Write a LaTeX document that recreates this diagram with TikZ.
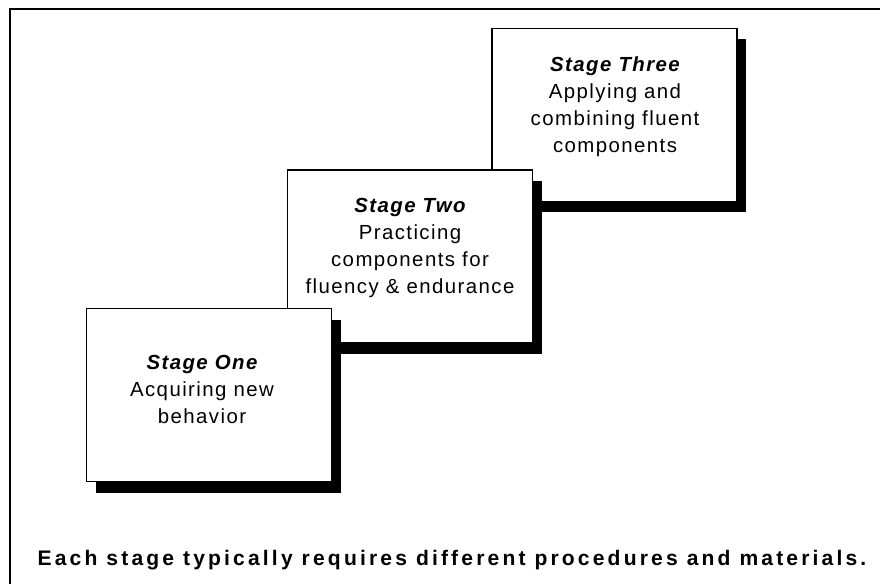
\documentclass[tikz,border=0pt]{standalone}
\usepackage{fontspec}
\setmainfont{Liberation Sans}
\newfontfamily\boxfont{Liberation Sans}[LetterSpace=7]
\newfontfamily\capfont{Liberation Sans}[LetterSpace=15]
\begin{document}
\begin{tikzpicture}[x=0.75pt,y=-0.75pt,
  shadowbox/.style={fill=black, draw=none, minimum width=183.75pt, minimum height=129.75pt, inner sep=0pt},
  stagebox/.style={fill=white, draw=black, line width=1pt, minimum width=183.75pt, minimum height=129.75pt, inner sep=0pt},
  stagetext/.style={align=center, anchor=north, inner sep=0pt, font=\boxfont\fontsize{15.3}{20.25}\selectfont},
  frameline/.style={line width=1.2pt, line cap=rect}]
\useasboundingbox (0,0) rectangle (880,584);
\fill[white] (0,0) rectangle (880,584);
\coordinate (fa) at (10,590);
\coordinate (fb) at (10,9);
\coordinate (fc) at (890,9);
\draw[frameline] (fa) -- (fb) -- (fc);
% Stage Three
\node[shadowbox] (s3) at (623.5,126) {};
\node[stagebox] (b3) at (614.5,115) {};
\node[stagetext] (t3) at (615,56) {{\bfseries\itshape Stage Three}\\Applying and\\combining fluent\\components};
% Stage Two
\node[shadowbox] (s2) at (419,267.5) {};
\node[stagebox] (b2) at (410,256.5) {};
\node[stagetext] (t2) at (410,198) {{\bfseries\itshape Stage Two}\\Practicing\\components for\\fluency \& endurance};
% Stage One
\node[shadowbox] (s1) at (218,406) {};
\node[stagebox] (b1) at (209,395) {};
\node[stagetext] (t1) at (202,355) {{\bfseries\itshape Stage One}\\Acquiring new\\behavior};
% caption
\node[anchor=base, inner sep=0pt, font=\capfont\bfseries\fontsize{15.8}{18}\selectfont] (cap) at (452,565) {Each stage typically requires different procedures and materials.};
\end{tikzpicture}
\end{document}
